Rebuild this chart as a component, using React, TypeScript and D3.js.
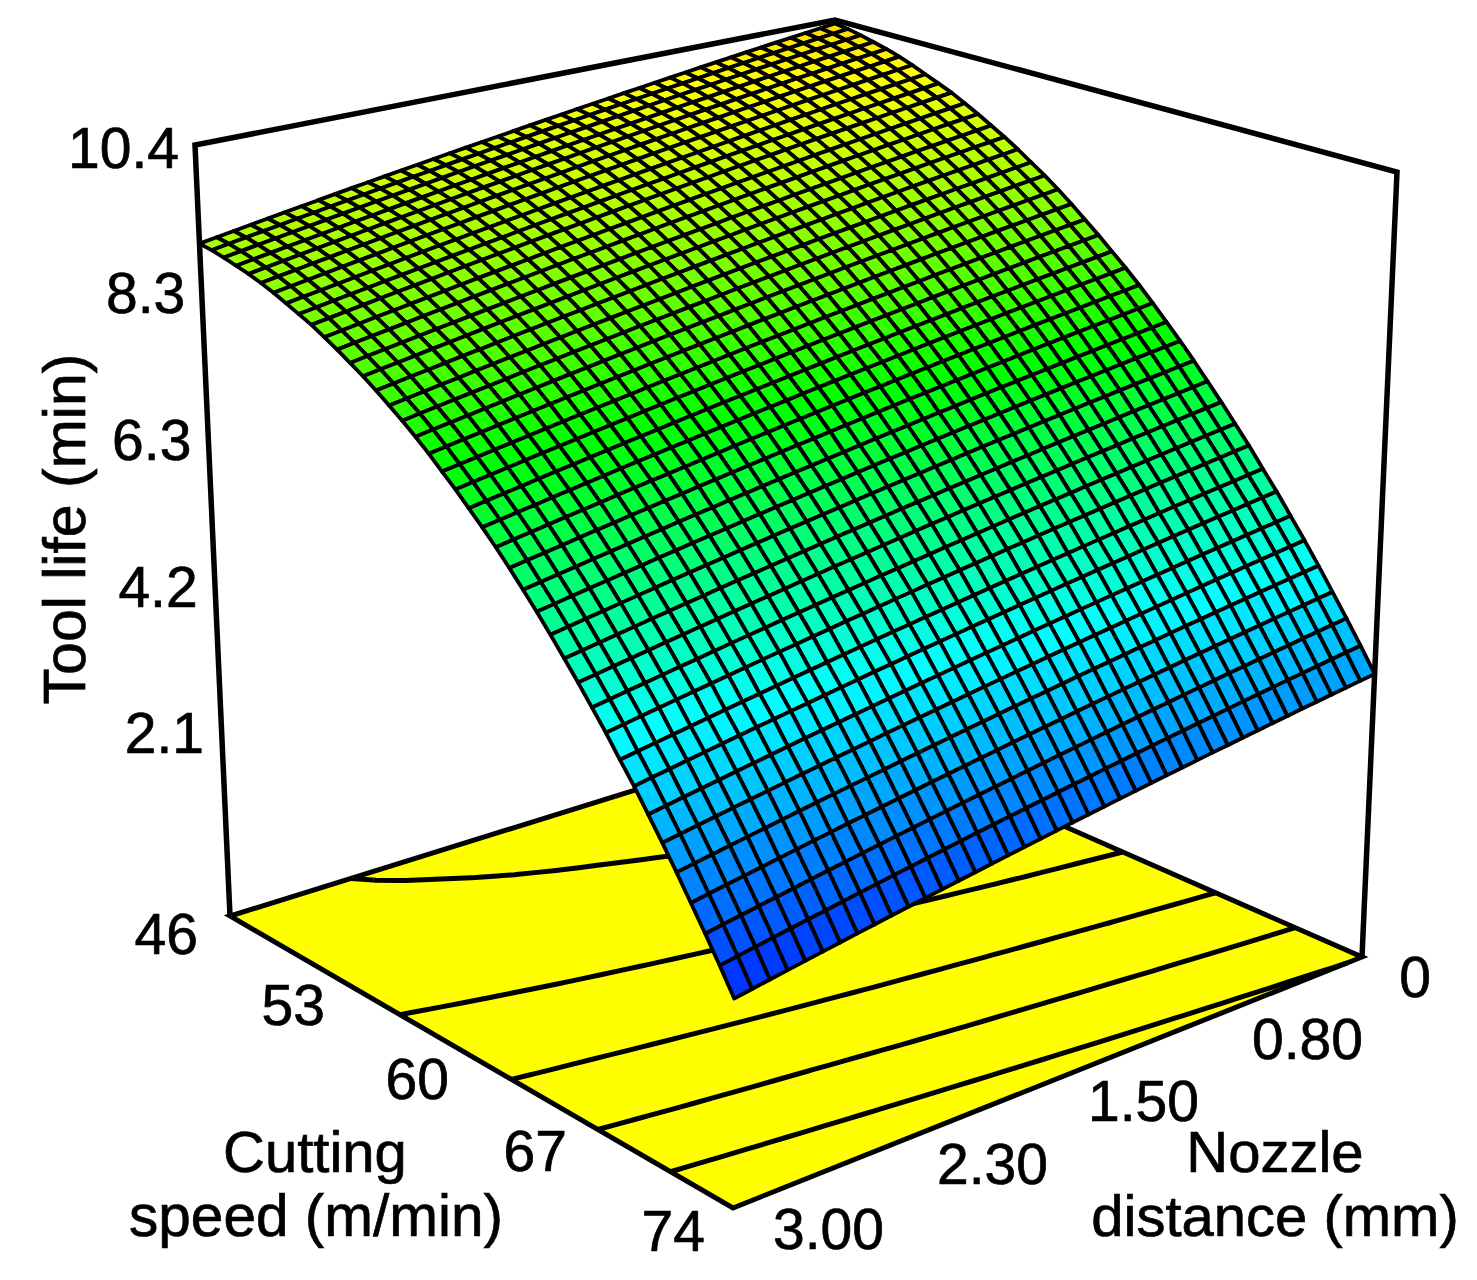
import React from 'react';
import * as d3 from 'd3';

// ---- Data ----
const speedTicks = [46, 53, 60, 67, 74];
const distanceTicks = ['0', '0.80', '1.50', '2.30', '3.00'];
const lifeTicks = ['2.1', '4.2', '6.3', '8.3', '10.4'];
const lifeTickValues = [2.1, 4.2, 6.3, 8.3, 10.4];

// Tool life along the 3.00 mm edge, from 46 to 74 m/min
const lifeAlongSpeed = [
  9.07, 9.04, 9.0, 8.95, 8.9, 8.84, 8.77, 8.69, 8.61, 8.53, 8.43, 8.33, 8.22, 8.11,
  7.99, 7.86, 7.73, 7.59, 7.44, 7.28, 7.12, 6.95, 6.78, 6.6, 6.41, 6.21, 6.01, 5.8,
  5.58, 5.36, 5.13, 4.9, 4.65, 4.41, 4.15, 3.89, 3.62, 3.34, 3.06, 2.77, 2.47,
];
// Gain in tool life along the nozzle distance, from 0 to 3.00 mm
const gainAlongDistance = [
  1.28, 1.252, 1.225, 1.197, 1.169, 1.141, 1.113, 1.084, 1.055, 1.026, 0.996, 0.966,
  0.936, 0.906, 0.876, 0.845, 0.814, 0.783, 0.751, 0.72, 0.688, 0.656, 0.623, 0.591,
  0.558, 0.525, 0.492, 0.458, 0.424, 0.39, 0.356, 0.322, 0.287, 0.252, 0.216, 0.181,
  0.145, 0.109, 0.073, 0.037, 0,
];
const contourLevels = [3.72, 5.05, 6.45, 7.88, 9.33];
const colorStops = [2.05, 4.85, 7.35, 10.0, 12.7];
const colorRamp = ['#0000ff', '#00ffff', '#00ff00', '#ffff00', '#ff0000'];

// ---- Layout ----
type P = [number, number];
const floorQuad: P[] = [[838, 727], [1362, 957], [733, 1208], [230, 916]];
const topQuad: P[] = [[835, 20], [1397, 172], [738, 326], [195, 145]];

function squareToQuad(q: P[]) {
  const [[x0, y0], [x1, y1], [x2, y2], [x3, y3]] = q;
  const dx1 = x1 - x2, dx2 = x3 - x2, sx = x0 - x1 + x2 - x3;
  const dy1 = y1 - y2, dy2 = y3 - y2, sy = y0 - y1 + y2 - y3;
  const den = dx1 * dy2 - dx2 * dy1;
  const g = (sx * dy2 - dx2 * sy) / den;
  const h = (dx1 * sy - sx * dy1) / den;
  const a = x1 - x0 + g * x1, b = x3 - x0 + h * x3, c = x0;
  const d = y1 - y0 + g * y1, e = y3 - y0 + h * y3, f = y0;
  return (u: number, v: number): P => {
    const w = g * u + h * v + 1;
    return [(a * u + b * v + c) / w, (d * u + e * v + f) / w];
  };
}
const floorAt = squareToQuad(floorQuad);
const topAt = squareToQuad(topQuad);

const uScale = d3.scaleLinear().domain([0, lifeAlongSpeed.length - 1]).range([0, 1]);
const vScale = d3.scaleLinear().domain([0, gainAlongDistance.length - 1]).range([0, 1]);
const zScale = d3.scaleLinear().domain([0, 10.4]).range([0, 1]);

function project(i: number, j: number, z: number): P {
  const u = uScale(i), v = vScale(j);
  const a = floorAt(u, v), b = topAt(u, v), t = zScale(z);
  return [a[0] + (b[0] - a[0]) * t, a[1] + (b[1] - a[1]) * t];
}

const color = d3.scaleLinear<string>().domain(colorStops).range(colorRamp).interpolate(d3.interpolateRgb);
const nI = lifeAlongSpeed.length, nJ = gainAlongDistance.length;
const zAt = (i: number, j: number) => lifeAlongSpeed[i] + gainAlongDistance[j];
const line = d3.line<P>();

// Tick label positions
const speedX = d3.scaleLinear().domain(speedTicks).range([198, 325, 449, 567, 705]);
const speedY = d3.scaleLinear().domain(speedTicks).range([954, 1025, 1099, 1171, 1251]);
const distIdx = distanceTicks.map((_, i) => i);
const distX = d3.scaleLinear().domain(distIdx).range([1431, 1363, 1199, 1048, 884]);
const distY = d3.scaleLinear().domain(distIdx).range([997, 1059, 1121, 1184, 1249]);
const lifeY = d3.scaleLinear().domain(lifeTickValues).range([753, 607, 460, 313, 168]);
const lifeX = d3.scaleLinear().domain([lifeTickValues[0], lifeTickValues[4]]).range([204, 179]);

const FONT = '"Liberation Sans", Arial, sans-serif';

function contourSegments(): string[] {
  const values: number[] = [];
  for (let j = 0; j < nJ; j++) for (let i = 0; i < nI; i++) values.push(zAt(i, j));
  const gen = d3.contours().size([nI, nJ]).thresholds(contourLevels);
  const out: string[] = [];
  const map = (p: number[]): P => {
    const i = Math.max(0, Math.min(nI - 1, p[0] - 0.5));
    const j = Math.max(0, Math.min(nJ - 1, p[1] - 0.5));
    return project(i, j, 0);
  };
  const sameBorder = (a: number[], b: number[]) =>
    (a[0] <= 0.5 && b[0] <= 0.5) || (a[1] <= 0.5 && b[1] <= 0.5) ||
    (a[0] >= nI - 0.5 && b[0] >= nI - 0.5) || (a[1] >= nJ - 0.5 && b[1] >= nJ - 0.5);
  for (const c of gen(values)) {
    for (const poly of c.coordinates) {
      for (const ring of poly) {
        let cur: P[] = [];
        for (let k = 0; k < ring.length - 1; k++) {
          const a = ring[k], b = ring[k + 1];
          if (sameBorder(a, b)) {
            if (cur.length > 1) out.push(line(cur) as string);
            cur = [];
          } else {
            if (!cur.length) cur.push(map(a));
            cur.push(map(b));
          }
        }
        if (cur.length > 1) out.push(line(cur) as string);
      }
    }
  }
  return out;
}

export default function App() {
  const cells: React.ReactNode[] = [];
  for (let i = 0; i < nI - 1; i++) {
    for (let j = 0; j < nJ - 1; j++) {
      const mean = (zAt(i, j) + zAt(i + 1, j) + zAt(i, j + 1) + zAt(i + 1, j + 1)) / 4;
      const pts: P[] = [
        project(i, j, zAt(i, j)),
        project(i + 1, j, zAt(i + 1, j)),
        project(i + 1, j + 1, zAt(i + 1, j + 1)),
        project(i, j + 1, zAt(i, j + 1)),
      ];
      cells.push(<path key={i + '-' + j} d={line(pts) + 'Z'} fill={color(mean)} stroke="#000" strokeWidth={3.8} strokeLinejoin="round" />);
    }
  }
  const text = { fontFamily: FONT, fill: '#000', stroke: '#000', strokeWidth: 0.7 } as const;
  return (
    <svg width={1477} height={1280} style={{ position: 'absolute', left: 0, top: 0, display: 'block', background: '#fff' }}>
      <path d={line(floorQuad) + 'Z'} fill="#ffff00" stroke="#000" strokeWidth={5} strokeLinejoin="miter" />
      {contourSegments().map((d, k) => (
        <path key={k} d={d} fill="none" stroke="#000" strokeWidth={5} strokeLinejoin="round" />
      ))}
      <path
        d={line([floorQuad[3], topQuad[3], topQuad[0], topQuad[1], floorQuad[1]]) as string}
        fill="none" stroke="#000" strokeWidth={5.5} strokeLinejoin="miter"
      />
      {cells}
      {lifeTicks.map((t, i) => (
        <text key={t} x={lifeX(lifeTickValues[i])} y={lifeY(lifeTickValues[i])} textAnchor="end" fontSize={57} {...text}>{t}</text>
      ))}
      {speedTicks.map((t) => (
        <text key={t} x={speedX(t)} y={speedY(t)} textAnchor="end" fontSize={57} {...text}>{t}</text>
      ))}
      {distanceTicks.map((t, i) => (
        <text key={t} x={distX(i)} y={distY(i)} textAnchor="end" fontSize={57} {...text}>{t}</text>
      ))}
      <text transform="translate(85,529) rotate(-90)" textAnchor="middle" fontSize={59} {...text}>Tool life (min)</text>
      <text x={315} y={1172} textAnchor="middle" fontSize={58} {...text}>Cutting</text>
      <text x={316} y={1236} textAnchor="middle" fontSize={58.5} {...text}>speed (m/min)</text>
      <text x={1275} y={1172} textAnchor="middle" fontSize={58} {...text}>Nozzle</text>
      <text x={1275} y={1236} textAnchor="middle" fontSize={58} {...text}>distance (mm)</text>
    </svg>
  );
}
